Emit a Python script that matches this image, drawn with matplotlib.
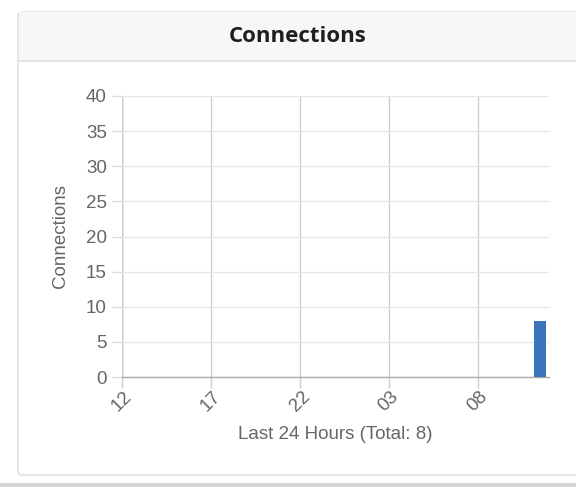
#!/usr/bin/env python3

import matplotlib
matplotlib.use('Agg')
import matplotlib.pyplot as plt
import matplotlib.transforms as mtransforms
from matplotlib.patches import FancyBboxPatch, Rectangle

plt.rcParams['font.family'] = ['Liberation Sans', 'DejaVu Sans']

# hourly bins over the last 24 hours, starting at 12:00
hours = ['12', '13', '14', '15', '16', '17', '18', '19', '20', '21', '22', '23',
         '00', '01', '02', '03', '04', '05', '06', '07', '08', '09', '10', '11']
counts = [0, 0, 0, 0, 0, 0, 0, 0, 0, 0, 0, 0,
          0, 0, 0, 0, 0, 0, 0, 0, 0, 0, 0, 8]
tick_labels = ['12', '17', '22', '03', '08']
y_ticks = [0, 5, 10, 15, 20, 25, 30, 35, 40]

W, H = 576, 487
fig = plt.figure(figsize=(W / 100, H / 100), dpi=100)
fig.patch.set_facecolor('white')

# card background, border and header
fig.patches.append(Rectangle((0, 0), 1, 4 / H, transform=fig.transFigure,
                             facecolor='#d4d4d4', edgecolor='none', zorder=0))
card = FancyBboxPatch((18 / W, 12 / H), 1.0, (475 - 12) / H,
                      boxstyle='round,pad=0,rounding_size=0.008',
                      transform=fig.transFigure, facecolor='white',
                      edgecolor='#dcdcdc', linewidth=1.0, zorder=0)
fig.patches.append(card)
header = Rectangle((18.5 / W, (H - 61) / H), 1.0, 49 / H, transform=fig.transFigure,
                   facecolor='#f7f7f7', edgecolor='none', zorder=1)
fig.patches.append(header)
fig.add_artist(plt.Line2D([18.5 / W, 1], [(H - 61) / H] * 2, transform=fig.transFigure,
                          color='#dedede', linewidth=1.2, zorder=2))
fig.text(298 / W, 1 - 37 / H, 'Connections', ha='center', va='center',
         fontsize=16, fontweight='bold', color='#1e1e1e',
         family=['Open Sans', 'DejaVu Sans'], zorder=3)

ax = fig.add_axes([122 / W, 1 - 377 / H, (549 - 122) / W, (377 - 96) / H])
ax.set_zorder(5)
ax.set_facecolor('none')

x = [i + 0.5 for i in range(len(hours))]
ax.bar(x, counts, width=0.68, color='#3b74bd', edgecolor='none', zorder=3)

ax.set_xlim(0, 24)
ax.set_ylim(0, 40)
ax.set_yticks(y_ticks)
ax.set_xticks([hours.index(t) for t in tick_labels])
ax.set_xticklabels(tick_labels, rotation=45, ha='center')

# nudge the rotated hour labels a little to the right, like the original
shift = mtransforms.ScaledTranslation(3 / 100, -1 / 100, fig.dpi_scale_trans)
for lbl in ax.get_xticklabels():
    lbl.set_transform(lbl.get_transform() + shift)

for s in ['top', 'right', 'left']:
    ax.spines[s].set_visible(False)
ax.spines['bottom'].set_color('#aaaaaa')
ax.spines['bottom'].set_linewidth(1.0)

ax.grid(axis='y', color='#e6e6e6', linewidth=1.0, zorder=0)
ax.grid(axis='x', color='#cccccc', linewidth=1.0, zorder=0)
ax.axvline(0, color='#bbbbbb', linewidth=1.0, zorder=1)
ax.tick_params(axis='y', length=7, width=1.0, color='#dddddd', pad=4,
               labelsize=13.5, labelcolor='#666666')
ax.tick_params(axis='x', length=8, width=1.0, color='#cccccc', pad=0,
               labelsize=13.5, labelcolor='#666666')

ax.set_ylabel('Connections', fontsize=13.5, color='#666666', labelpad=12)
ax.set_xlabel('Last 24 Hours (Total: 8)', fontsize=13.5, color='#666666', labelpad=8)

fig.savefig('out.png', dpi=100)
